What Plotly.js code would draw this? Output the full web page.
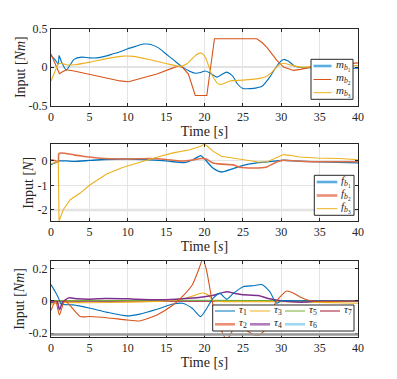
<!DOCTYPE html>
<html>
<head>
<meta charset="utf-8">
<script src="https://cdn.plot.ly/plotly-3.0.1.min.js"></script>
<style>html,body{margin:0;padding:0;background:#fff;}#chart{width:397px;height:379px;}</style>
</head>
<body>
<div id="chart"></div>
<script>
// ---------- DATA ----------
// Panel 1: moments m_b1, m_b2, m_b3 [Nm]
var mb1_t = [0, 0.5, 0.95, 1.05, 1.4, 2.0, 2.5, 3.0, 4.0, 5, 6, 7, 8, 9, 10, 11, 12, 12.5, 13, 14, 15, 16, 17, 18, 18.8, 19.5, 20.1, 20.6, 21.6, 22.2, 22.9, 23.7, 24.3, 25, 26, 26.8, 27.5, 28.5, 29.6, 30.3, 30.9, 31.8, 33, 35, 40];
var mb1_v = [0.15, 0.10, 0.04, 0.15, 0.06, -0.04, 0.03, 0.10, 0.13, 0.12, 0.12, 0.14, 0.17, 0.20, 0.24, 0.27, 0.30, 0.30, 0.295, 0.25, 0.17, 0.09, 0.01, -0.05, -0.08, -0.07, -0.05, -0.07, -0.13, -0.10, -0.065, -0.12, -0.22, -0.28, -0.28, -0.27, -0.25, -0.13, 0.04, 0.10, 0.08, 0.01, -0.01, 0, -0.015];
var mb2_t = [0, 0.5, 1.1, 1.5, 2.0, 3, 5.1, 7.25, 9, 10.1, 11.6, 13.8, 15.9, 16.5, 17.1, 17.9, 18.8, 20.3, 21.3, 26.8, 27.5, 28.1, 29.4, 30.3, 31.6, 32.5, 33.8, 35, 40];
var mb2_v = [0.17, 0.06, -0.086, -0.06, -0.035, -0.05, -0.095, -0.14, -0.18, -0.19, -0.15, -0.09, -0.01, 0.01, 0.0, -0.09, -0.37, -0.37, 0.37, 0.37, 0.32, 0.26, 0.09, 0.0, -0.043, -0.03, 0, 0.01, 0.055];
var mb3_t = [0, 0.5, 0.95, 1.3, 2, 3, 5.1, 7.25, 9.4, 10.7, 12.9, 15.1, 16.8, 17.7, 18.8, 19.5, 20.1, 20.9, 21.8, 22.4, 23.3, 25, 27, 27.9, 28.8, 29.6, 30.3, 31.1, 32.5, 35, 40];
var mb3_v = [-0.18, -0.06, 0.04, 0.05, 0.03, 0.03, 0.065, 0.11, 0.143, 0.14, 0.096, 0.044, 0.01, 0.044, 0.15, 0.185, 0.13, -0.086, -0.22, -0.22, -0.18, -0.17, -0.15, -0.13, -0.065, 0.02, 0.05, 0.03, 0.0, 0.01, 0.02];

// Panel 2: forces f_b1, f_b2, f_b3 [N]
var fb1_t = [0, 0.5, 1, 2, 3, 5, 7, 10, 12, 15, 17.5, 18.5, 19.5, 20.1, 21.1, 22.2, 23.75, 25.05, 27, 29, 30.3, 32.4, 35, 40];
var fb1_v = [-0.15, -0.08, 0.0, 0.0, -0.02, 0.02, 0.06, 0.08, 0.06, 0.0, -0.06, 0.05, 0.22, 0.05, -0.29, -0.45, -0.31, -0.18, -0.07, -0.01, 0.03, -0.01, -0.04, -0.08];
var fb2_t = [0, 0.5, 0.95, 1.05, 3, 5, 7, 10, 13, 15, 17, 18.4, 19.6, 20.2, 21.1, 22.2, 23.75, 24.6, 26.4, 28, 29.4, 30.3, 32.4, 35, 40];
var fb2_v = [0.05, 0.02, -0.05, 0.31, 0.25, 0.16, 0.10, 0.08, 0.10, 0.06, 0.0, 0.04, 0.10, 0.08, -0.08, -0.13, -0.16, -0.26, -0.29, -0.26, -0.04, 0.03, -0.01, -0.03, -0.03];
var fb3_t = [0, 0.5, 0.95, 1.05, 1.6, 2.5, 3.8, 5.1, 7.25, 9.4, 11.6, 13.8, 15.9, 18.1, 19.5, 20.0, 20.3, 21.1, 22.2, 23.75, 25.05, 27, 28.1, 29.2, 30.3, 31.1, 32.4, 34.6, 37.6, 40];
var fb3_v = [-0.12, -0.06, -0.02, -2.45, -1.99, -1.58, -1.31, -0.97, -0.53, -0.26, -0.04, 0.15, 0.33, 0.46, 0.60, 0.70, 0.62, 0.40, 0.19, 0.12, 0.06, -0.04, -0.04, 0.12, 0.26, 0.23, 0.16, 0.12, 0.10, 0.05];

// Panel 3: joint torques tau_1 .. tau_7 [Nm]
var tau1_t = [0, 0.5, 1.0, 1.3, 2.9, 5.1, 7.25, 9.9, 11.6, 13.8, 15.9, 17.1, 18.4, 19.5, 20.3, 21.1, 22, 22.9, 23.75, 25.05, 26.4, 27.45, 28.5, 29.4, 30, 32, 35, 40];
var tau1_v = [0.10, 0.06, 0.015, -0.02, -0.025, -0.046, -0.07, -0.093, -0.082, -0.052, -0.02, -0.015, -0.046, -0.097, -0.046, 0.015, 0.046, 0.01, 0.046, 0.087, 0.093, 0.10, 0.056, -0.015, 0, 0, 0, 0];
var tau2_t = [0, 0.6, 1.1, 1.8, 3.8, 5.1, 7.25, 9.9, 11.6, 13.8, 15.9, 17.1, 18.4, 19.3, 19.8, 20.3, 21.1, 22, 22.9, 24, 25, 26.5, 27.2, 28, 28.8, 29.4, 30.7, 31.5, 32.4, 33.8, 40];
var tau2_v = [-0.06, 0.0, -0.087, 0.0, -0.097, -0.097, -0.104, -0.118, -0.124, -0.087, -0.026, 0.025, 0.097, 0.20, 0.26, 0.18, -0.026, -0.16, -0.24, -0.16, -0.17, -0.21, -0.21, -0.17, -0.06, 0, 0.06, 0.05, 0.025, 0, 0];
var tau3_t = [0, 1, 2, 5, 10, 15, 17, 18.5, 19.7, 20.5, 21.2, 25, 30, 35, 40];
var tau3_v = [-0.02, -0.015, -0.01, -0.012, -0.008, 0.0, 0.01, 0.03, 0.048, 0.035, 0.0, -0.005, -0.005, -0.01, -0.015];
var tau4_t = [0, 0.8, 1.1, 1.5, 2.3, 3.5, 5, 7, 10, 12, 15, 18, 20, 21, 22.9, 24, 25, 27, 28.5, 30, 31, 33, 35, 40];
var tau4_v = [-0.01, -0.005, -0.055, -0.01, 0.018, 0.012, 0.01, 0.014, 0.012, 0.008, 0.006, 0.015, 0.025, 0.032, 0.055, 0.045, 0.038, 0.033, 0.012, 0.0, -0.005, -0.008, 0, 0];
var tau5_t = [0, 10, 20, 30, 40];
var tau5_v = [0.002, 0.002, 0.003, 0.001, 0.002];
var tau6_t = [0, 10, 20, 30, 40];
var tau6_v = [0.001, 0.001, 0.002, 0.001, 0.001];
var tau7_t = [0, 10, 20, 30, 40];
var tau7_v = [0.0, 0.0, 0.0, 0.0, 0.0];

// names, titles, tick labels
var names1 = ['<i>m</i><sub><i>b</i><sub>1</sub></sub>', '<i>m</i><sub><i>b</i><sub>2</sub></sub>', '<i>m</i><sub><i>b</i><sub>3</sub></sub>'];
var names2 = ['<i>f</i><sub><i>b</i><sub>1</sub></sub>', '<i>f</i><sub><i>b</i><sub>2</sub></sub>', '<i>f</i><sub><i>b</i><sub>3</sub></sub>'];
var names3 = ['<i>τ</i><sub>1</sub>', '<i>τ</i><sub>2</sub>', '<i>τ</i><sub>3</sub>', '<i>τ</i><sub>4</sub>', '<i>τ</i><sub>5</sub>', '<i>τ</i><sub>6</sub>', '<i>τ</i><sub>7</sub>'];
var yTitles = ['Input [<i>Nm</i>]', 'Input [<i>N</i>]', 'Input [<i>Nm</i>]'];
var xTitle = 'Time [<i>s</i>]';
var xTicks = [0, 5, 10, 15, 20, 25, 30, 35, 40];
var y1Ticks = [-0.5, 0, 0.5], y1Text = ['-0.5', '0', '0.5'];
var y2Ticks = [-2, -1, 0], y2Text = ['-2', '-1', '0'];
var y3Ticks = [-0.2, 0, 0.2], y3Text = ['-0.2', '0', '0.2'];

// ---------- STYLE ----------
var C = ['#0072BD', '#D95319', '#EDB120', '#7E2F8E', '#77AC30', '#4DBEEE', '#A2142F'];
var FONT = 'Liberation Serif, Times New Roman, serif';
var INK = '#262626';
var W = 397, H = 379, M = {l: 51, r: 39, t: 28, b: 42};
var PW = W - M.l - M.r, PH = H - M.t - M.b;
function fx(px) { return (px - M.l) / PW; }
function fy(py) { return 1 - (py - M.t) / PH; }

function tr(t, v, color, ax, w, shape) {
  return {x: t, y: v, type: 'scatter', mode: 'lines', xaxis: 'x' + ax, yaxis: 'y' + ax,
    line: {color: color, width: w || 1, shape: shape || 'spline', smoothing: 0.6}, showlegend: false, hoverinfo: 'skip'};
}

var data = [
  tr(mb1_t, mb1_v, C[0], '', 1.1), tr(mb2_t, mb2_v, C[1], '', 1.1, 'linear'), tr(mb3_t, mb3_v, C[2], '', 1.1),
  tr(fb1_t, fb1_v, C[0], '2', 1.3), tr(fb2_t, fb2_v, '#E0704A', '2', 1.6), tr(fb3_t, fb3_v, C[2], '2', 1.1, 'linear'),
  tr(tau7_t, tau7_v, C[6], '3', 1.8), tr(tau6_t, tau6_v, C[5], '3', 1), tr(tau5_t, tau5_v, C[4], '3', 1),
  tr(tau3_t, tau3_v, C[2], '3', 1.2), tr(tau4_t, tau4_v, C[3], '3', 1.5),
  tr(tau1_t, tau1_v, C[0], '3', 1.1), tr(tau2_t, tau2_v, C[1], '3', 1.1)
];

function xax(anchor) {
  return {range: [0, 40], tickvals: xTicks, ticktext: xTicks.map(String), ticks: 'inside', ticklen: 3,
    tickcolor: INK, showline: true, linecolor: INK, linewidth: 1, mirror: 'ticks', showgrid: true,
    gridcolor: '#e4e4e4', gridwidth: 1, zeroline: false, anchor: anchor,
    tickfont: {family: FONT, size: 12, color: INK},
    title: {text: xTitle, font: {family: FONT, size: 14, color: INK}, standoff: 2}};
}
function yax(dom, range, tv, tt, anchor) {
  return {domain: dom, range: range, tickvals: tv, ticktext: tt, ticks: 'inside', ticklen: 3,
    tickcolor: INK, showline: true, linecolor: INK, linewidth: 1, mirror: 'ticks', showgrid: true,
    gridcolor: '#e4e4e4', gridwidth: 1, zeroline: false, anchor: anchor,
    tickfont: {family: FONT, size: 12, color: INK}};
}

var dom1 = [fy(105.5), fy(28.7)], dom2 = [fy(221), fy(144.3)], dom3 = [fy(337), fy(260.7)];
var layout = {
  width: W, height: H, margin: M, paper_bgcolor: '#fff', plot_bgcolor: '#fff', showlegend: false,
  xaxis: xax('y'), xaxis2: xax('y2'), xaxis3: xax('y3'),
  yaxis: yax(dom1, [-0.5, 0.5], y1Ticks, y1Text, 'x'),
  yaxis2: yax(dom2, [-2.45, 0.68], y2Ticks, y2Text, 'x2'),
  yaxis3: yax(dom3, [-0.223, 0.247], y3Ticks, y3Text, 'x3'),
  shapes: [], annotations: []
};

// y-axis titles (rotated), positioned like the reference
[[dom1, 20], [dom2, 29], [dom3, 20]].forEach(function (d, i) {
  layout.annotations.push({xref: 'paper', yref: 'paper', x: fx(d[1]), y: (d[0][0] + d[0][1]) / 2,
    xanchor: 'center', yanchor: 'middle', textangle: -90, text: yTitles[i], showarrow: false,
    font: {family: FONT, size: 14, color: INK}});
});

// emphasised grid bands seen in the reference
layout.shapes.push({type: 'line', xref: 'x', yref: 'y', x0: 0, x1: 40, y0: 0, y1: 0, line: {color: '#e2e2e2', width: 2}, layer: 'below'});
layout.shapes.push({type: 'line', xref: 'x2', yref: 'y2', x0: 0, x1: 40, y0: -2, y1: -2, line: {color: '#e2e2e2', width: 2.5}, layer: 'below'});
layout.shapes.push({type: 'line', xref: 'x3', yref: 'y3', x0: 0, x1: 40, y0: -0.207, y1: -0.207, line: {color: '#9a9a9a', width: 2.5}, layer: 'above'});

// ---------- compact MATLAB-like legends ----------
function legendBox(x0, x1, y0, y1) {
  layout.shapes.push({type: 'rect', xref: 'paper', yref: 'paper', x0: fx(x0), x1: fx(x1), y0: fy(y1), y1: fy(y0),
    line: {color: INK, width: 1}, fillcolor: '#fff', layer: 'above'});
}
function legendItem(lx0, lx1, ly, color, w, txt) {
  layout.shapes.push({type: 'line', xref: 'paper', yref: 'paper', x0: fx(lx0), x1: fx(lx1), y0: fy(ly), y1: fy(ly),
    line: {color: color, width: w}, layer: 'above'});
  layout.annotations.push({xref: 'paper', yref: 'paper', x: fx(lx1 + 2), y: fy(ly - 1), xanchor: 'left', yanchor: 'middle',
    text: txt, showarrow: false, font: {family: FONT, size: 11, color: INK}});
}
legendBox(311, 353, 59.3, 99.3);
legendItem(313.5, 331.5, 66, '#5AAEE0', 2.6, names1[0]);
legendItem(313.5, 331.5, 79.5, C[1], 1, names1[1]);
legendItem(313.5, 331.5, 92.7, C[2], 1, names1[2]);

legendBox(314.3, 354, 175.3, 215.3);
legendItem(316.7, 337.3, 182, '#5AAEE0', 2.6, names2[0]);
legendItem(316.7, 337.3, 195.5, '#EB9075', 2.6, names2[1]);
legendItem(316.7, 337.3, 208.7, C[2], 1, names2[2]);

legendBox(212.7, 354, 305, 331);
var colX = [215, 250, 285, 320];
legendItem(colX[0], colX[0] + 20, 311, C[0], 1, names3[0]);
legendItem(colX[1], colX[1] + 20, 311, C[2], 1, names3[2]);
legendItem(colX[2], colX[2] + 20, 311, C[4], 1, names3[4]);
legendItem(colX[3], colX[3] + 20, 311, C[6], 1, names3[6]);
legendItem(colX[0], colX[0] + 20, 324.3, '#EB9075', 2.6, names3[1]);
legendItem(colX[1], colX[1] + 20, 324.3, '#B07CBC', 2.6, names3[3]);
legendItem(colX[2], colX[2] + 20, 324.3, '#9ED8F2', 2.6, names3[5]);

Plotly.newPlot('chart', data, layout, {staticPlot: true, displayModeBar: false});
</script>
</body>
</html>
